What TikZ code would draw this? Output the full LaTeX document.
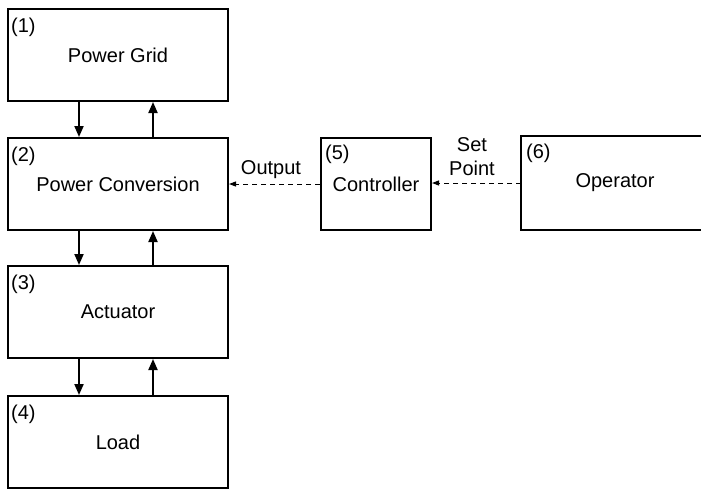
\documentclass[tikz,border=0pt]{standalone}
\usepackage{fontspec}
\setmainfont{Liberation Sans}
\usetikzlibrary{arrows.meta,calc}
\begin{document}
\begin{tikzpicture}[x=1pt,y=-1pt,
  blk/.style={draw,line width=2pt,minimum height=92pt,inner sep=0pt,font=\fontsize{20}{24}\selectfont},
  num/.style={anchor=west,inner sep=0pt,font=\fontsize{20}{24}\selectfont},
  lbl/.style={inner sep=0pt,align=center,font=\fontsize{20}{24}\selectfont},
  pw/.style={line width=2pt,-{Triangle[length=11pt,width=9pt]}},
  sig/.style={line width=1pt,dash pattern=on 5pt off 4pt,-{Triangle[length=7pt,width=5pt]}}]
\useasboundingbox (0,0) rectangle (701,490);
\node[blk,minimum width=220pt] (b1) at (118,55) {Power Grid};
\node[blk,minimum width=220pt] (b2) at (118,184) {Power Conversion};
\node[blk,minimum width=220pt] (b3) at (118,312) {Actuator};
\node[blk,minimum width=220pt] (b4) at (118,442) {Load};
\node[blk,minimum width=110pt] (b5) at (376,184) {Controller};
\node[blk,draw=none,minimum width=186pt] (b6) at (615,183) {Operator};
\draw[line width=2pt] ($(b6.north west)+(190,0)$) -- (b6.north west) -- (b6.south west) -- ($(b6.south west)+(190,0)$);
\node[num] (n1) at ($(b1.north west)+(4,19)$) {(1)};
\node[num] (n2) at ($(b2.north west)+(4,19)$) {(2)};
\node[num] (n3) at ($(b3.north west)+(4,19)$) {(3)};
\node[num] (n4) at ($(b4.north west)+(4,19)$) {(4)};
\node[num] (n5) at ($(b5.north west)+(5,17)$) {(5)};
\node[num] (n6) at ($(b6.north west)+(5,17)$) {(6)};
\draw[pw] ($(b1.south west)+(72,0)$) -- ($(b2.north west)+(72,0)$);
\draw[pw] ($(b2.north west)+(146,0)$) -- ($(b1.south west)+(146,0)$);
\draw[pw] ($(b2.south west)+(72,0)$) -- ($(b3.north west)+(72,0)$);
\draw[pw] ($(b3.north west)+(146,0)$) -- ($(b2.south west)+(146,0)$);
\draw[pw] ($(b3.south west)+(72,0)$) -- ($(b4.north west)+(72,0)$);
\draw[pw] ($(b4.north west)+(146,0)$) -- ($(b3.south west)+(146,0)$);
\draw[sig] (b5.west) -- (b2.east);
\draw[sig] (b6.west) -- (b5.east |- b6.west);
\node[lbl] (out) at (271,170) {Output};
\node[lbl] (sp) at (472,157) {Set\\Point};
\end{tikzpicture}
\end{document}
